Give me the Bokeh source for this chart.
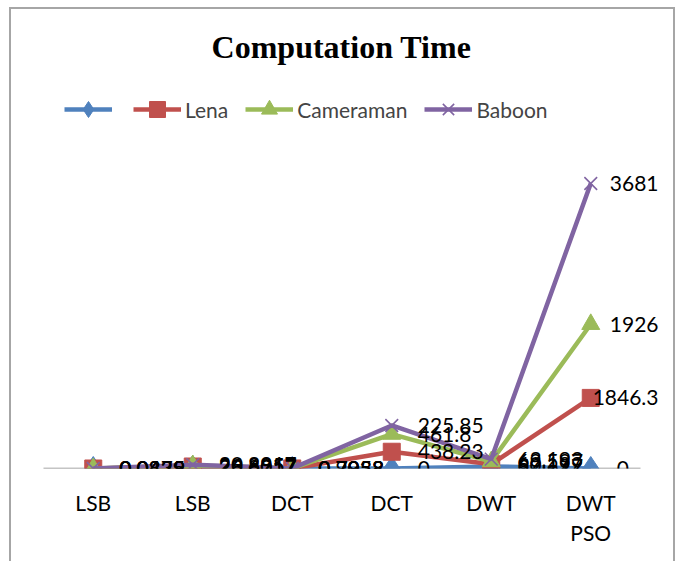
import numpy as np
from bokeh.plotting import figure
from bokeh.models import ColumnDataSource, Legend, LegendItem, FixedTicker, Range1d, Label, LabelSet
from bokeh.core.properties import value
from bokeh.embed import file_html
from bokeh.resources import INLINE

# ---- data ----
categories = ["LSB", "LSB", "DCT", "DCT", "DWT", "DWT\nPSO"]
series_names = ["", "Lena", "Cameraman", "Baboon"]
series1 = [0.0339, 28.8017, 0.7958, 0, 52.697, 0]
lena = [0.0829, 23.6057, 0.7058, 438.23, 60.199, 1846.3]
cameraman = [0.0479, 26.8957, 0.9038, 461.8, 69.597, 1926]
baboon = [0.0425, 20.8917, 0.7938, 225.85, 63.193, 3681]

# ---- styles ----
colors = ["#4F81BD", "#C0504D", "#9BBB59", "#8064A2"]
markers = ["diamond", "square", "triangle", "x"]
msizes = [24, 17, 18, 18]
FONT = "Lato"
FS = "21px"

W, H = 666, 554
PL, PR, FB = 32, 37, 95          # plot-area insets inside the chart area
n = len(categories)
step = (W - PL - PR) / n
YMAX = 12003

p = figure(width=W, height=H,
           x_range=Range1d(-0.5 - PL / step, n - 0.5 + PR / step), y_range=Range1d(0, YMAX),
           output_backend="svg", toolbar_location=None, title=None,
           y_axis_location=None,
           min_border_left=0, min_border_right=0, min_border_bottom=FB, min_border_top=0)
p.outline_line_color = None
p.grid.visible = False
p.background_fill_color = "white"
p.border_fill_color = "white"
p.styles = {"margin-left": "9px", "margin-top": "7px",
            "border-top": "2px solid #a6a6a6", "border-left": "2px solid #a6a6a6",
            "border-right": "2px solid #a6a6a6"}

ax = p.xaxis[0]
ax.ticker = FixedTicker(ticks=list(range(n)))
ax.major_label_overrides = {i: c for i, c in enumerate(categories)}
ax.axis_line_color = None
ax.major_tick_line_color = None
ax.minor_tick_line_color = None
ax.major_label_text_font = FONT
ax.major_label_text_font_size = FS
ax.major_label_text_color = "black"
ax.major_label_standoff = 15

# category axis line spanning the plot area only
p.segment(x0=[-0.5], x1=[n - 0.5], y0=[0], y1=[0], line_color="#898989", line_width=1.5)

vals = np.array([series1, lena, cameraman, baboon], dtype=float)
cum = np.cumsum(vals, axis=0)
xs = list(range(n))
limit = W - 19  # right edge where Excel pushes labels back inside the chart

lines, marks, srcs = [], [], []
for k in range(len(series_names)):
    texts = [f"{v:g}" for v in vals[k]]
    xo, al = [], []
    for i, t in enumerate(texts):
        fx = PL + (i + 0.5) * step
        w = 0.56 * 21 * len(t)
        if fx + 26 + w > limit:
            xo.append(limit - fx); al.append("right")
        else:
            xo.append(26); al.append("left")
    src = ColumnDataSource(dict(x=xs, y=cum[k], text=texts, xo=xo, al=al))
    srcs.append(src)
    ln = p.line("x", "y", source=src, line_color=colors[k], line_width=4.5)
    mk = p.scatter("x", "y", source=src, marker=markers[k], size=msizes[k],
                   fill_color=colors[k], line_color=colors[k],
                   line_width=1.6 if markers[k] == "x" else 1)
    lines.append(ln); marks.append(mk)

for src in srcs:
    p.add_layout(LabelSet(x="x", y="y", text="text", source=src, x_offset="xo",
                          text_align="al", text_baseline="middle", text_font=value(FONT),
                          text_font_size=value(FS), text_color="black"))

legend = Legend(items=[LegendItem(label=series_names[k], renderers=[lines[k], marks[k]])
                       for k in range(len(series_names))],
                orientation="horizontal", location=(53, 339),
                glyph_width=48, glyph_height=40, label_standoff=4, spacing=17,
                padding=0, margin=0, border_line_color=None, background_fill_alpha=0,
                label_text_font=FONT, label_text_font_size=FS, label_width=0)
p.add_layout(legend)

p.add_layout(Label(x=330, y=422, x_units="screen", y_units="screen", text="Computation Time",
                   text_font="Liberation Serif", text_font_style="bold", text_font_size="32px",
                   text_align="center", text_baseline="middle", text_color="black"))

open("out.html", "w").write(file_html(p, INLINE))
